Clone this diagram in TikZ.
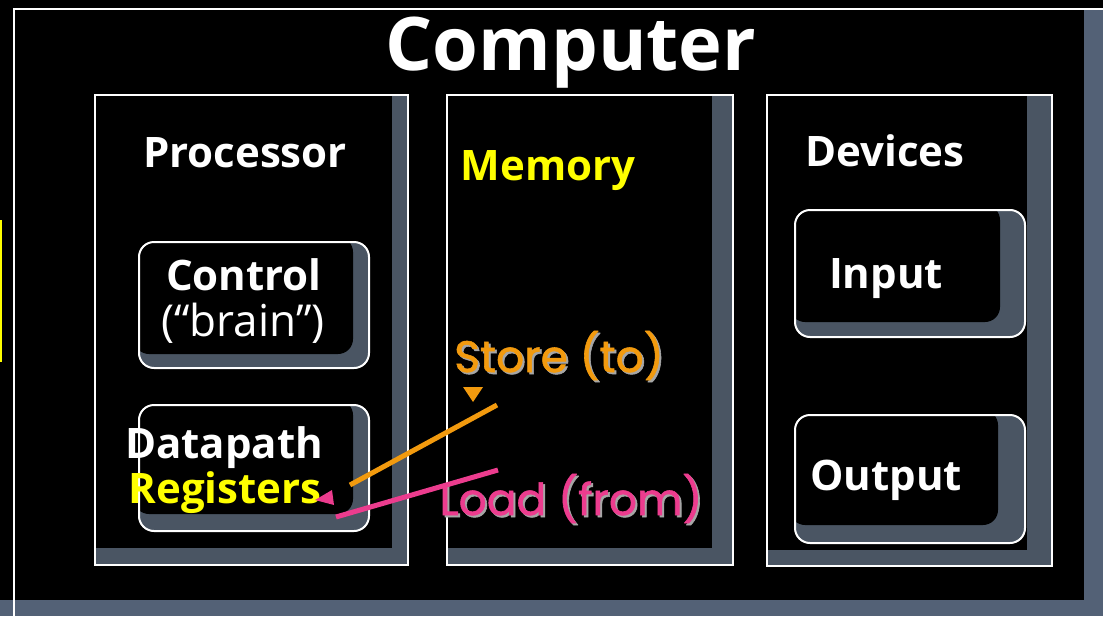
\documentclass[tikz,border=0pt]{standalone}
\usepackage{fontspec}
\setmainfont{Open Sans}
\newfontfamily\geo{Poppins}[FakeBold=1.3]
\definecolor{slate}{HTML}{4A5563}
\definecolor{outerslate}{HTML}{536176}
\definecolor{storec}{HTML}{F29A0E}
\definecolor{loadc}{HTML}{EC3C8E}
\definecolor{yel}{HTML}{FFFF00}
\tikzset{
  panel/.style 2 args={draw=white, line width=2pt, fill=slate, inner sep=0pt, outer sep=0pt, anchor=north west,
    path picture={\fill[black] (path picture bounding box.north west) rectangle ([xshift=-#1, yshift=#2]path picture bounding box.south east);}},
  rpanel/.style 2 args={draw=white, line width=2pt, fill=slate, inner sep=0pt, outer sep=0pt, anchor=north west, rounded corners=15pt,
    path picture={\fill[black, rounded corners=15pt] ([xshift=-5pt,yshift=5pt]path picture bounding box.north west) rectangle ([xshift=-#1, yshift=#2]path picture bounding box.south east);}},
  lbl/.style={text=white, font=\bfseries\fontsize{42}{44}\selectfont, inner sep=0pt, anchor=base},
  geolbl/.style={font=\geo\fontsize{44}{46}\selectfont, inner sep=0pt, anchor=base},
  link/.style={line width=5pt}
}
\begin{document}
\begin{tikzpicture}[x=1pt,y=-1pt]
\useasboundingbox (0,0) rectangle (1103,616);
\fill[outerslate] (0,0) rectangle (1103,616);
\fill[black] (0,0) rectangle (1084,600);
\fill[black] (1084,0) rectangle (1103,9);
\draw[white, line width=2pt] (14,616) -- (14,9) -- (1103,9);
\draw[yel, line width=2pt] (1,220) -- (1,362);

\node[lbl, font=\bfseries\fontsize{74}{76}\selectfont] (computer) at (571,70) {Computer};

\node[panel={16pt}{17pt}, minimum width=313pt, minimum height=470pt] (proc) at (95,95) {};
\node[panel={21pt}{17pt}, minimum width=286pt, minimum height=470pt] (mem) at (447,95) {};
\node[panel={25pt}{16pt}, minimum width=285pt, minimum height=471pt] (dev) at (767,95) {};

\node[rpanel={16pt}{14pt}, minimum width=230pt, minimum height=126pt] (ctrl) at (139,242) {};
\node[rpanel={16pt}{17pt}, minimum width=230pt, minimum height=126pt] (dp) at (139,405) {};
\node[rpanel={25pt}{15pt}, minimum width=230pt, minimum height=127pt] (in) at (795,210) {};
\node[rpanel={27pt}{18pt}, minimum width=230pt, minimum height=128pt] (out) at (795,415) {};

\node[lbl] (proct) at (245,167) {Processor};
\node[lbl, text=yel] (memt) at (548,180) {Memory};
\node[lbl] (devt) at (885,166) {Devices};
\node[lbl] (ctrlt) at (244,290) {Control};
\node[lbl, font=\fontsize{44}{46}\selectfont] (brain) at (243,336) {(“brain”)};
\node[lbl] (dpt) at (224,458) {Datapath};
\node[lbl, text=yel] (regt) at (225,503) {Registers};
\node[lbl] (int) at (886,288) {Input};
\node[lbl] (outt) at (886,490) {Output};

\node[geolbl, text=gray!70] at (561,374) {Store (to)};
\node[geolbl, text=storec] (store) at (559,372) {Store (to)};
\node[geolbl, text=gray!70] at (573,517) {Load (from)};
\node[geolbl, text=loadc] (load) at (571,515) {Load (from)};

\coordinate (s1) at (497,405);
\coordinate (s2) at (350,485);
\draw[link, storec] (s1) -- (s2);
\fill[storec] (463,387) -- (483,387) -- (473,402) -- cycle;
\coordinate (l1) at (498,470);
\coordinate (l2) at (336,517);
\draw[link, loadc] (l1) -- (l2);
\fill[loadc] (332,490) -- (334,505) -- (315,500) -- cycle;
\end{tikzpicture}
\end{document}
